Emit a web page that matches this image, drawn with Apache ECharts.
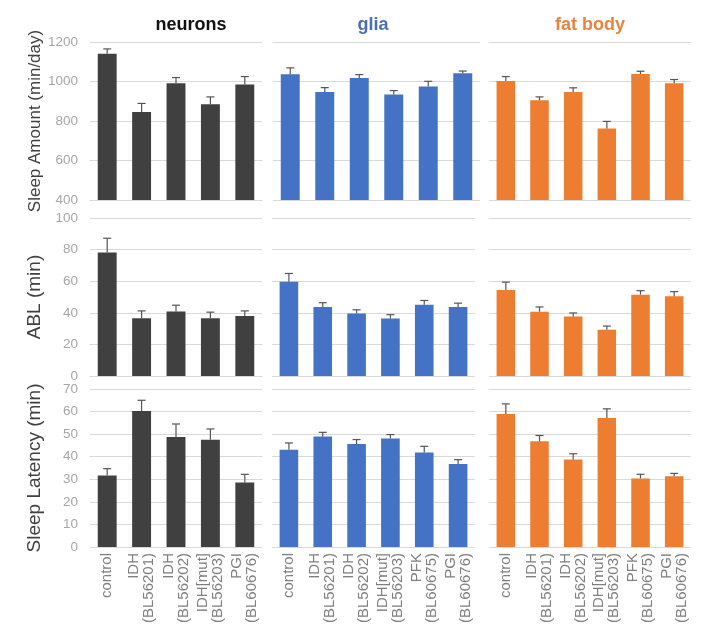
<!DOCTYPE html>
<html>
<head>
<meta charset="utf-8">
<script src="https://cdn.jsdelivr.net/npm/echarts@6/dist/echarts.min.js"></script>
<style>html,body{margin:0;padding:0;background:#fff}#c{width:710px;height:640px}</style>
</head>
<body>
<div id="c"></div>
<script>
// ---- data ----
const panelTitles = ['neurons', 'glia', 'fat body'];
const catsNeurons = ['control', 'IDH\n(BL56201)', 'IDH\n(BL56202)', 'IDH[mut]\n(BL56203)', 'PGI\n(BL60676)'];
const catsOther = ['control', 'IDH\n(BL56201)', 'IDH\n(BL56202)', 'IDH[mut]\n(BL56203)', 'PFK\n(BL60675)', 'PGI\n(BL60676)'];
const rowNames = ['Sleep Amount (min/day)', 'ABL (min)', 'Sleep Latency (min)'];

const sleepNeurons = [1140, 845, 991, 885, 985];
const sleepNeuronsErr = [25, 44, 29, 37, 40];
const sleepGlia = [1037, 947, 1018, 934, 975, 1042];
const sleepGliaErr = [32, 22, 17, 20, 26, 11];
const sleepFat = [1003, 905, 947, 762, 1038, 991];
const sleepFatErr = [22, 17, 21, 36, 14, 19];

const ablNeurons = [78.2, 36.6, 40.8, 36.6, 37.9];
const ablNeuronsErr = [9, 4.6, 4, 3.8, 3.3];
const ablGlia = [59.6, 43.6, 39.6, 36.4, 45.1, 43.6];
const ablGliaErr = [5.3, 2.8, 2.3, 2.4, 2.7, 2.5];
const ablFat = [54.4, 40.7, 37.7, 29.3, 51.5, 50.4];
const ablFatErr = [5, 3, 2.2, 2.3, 2.5, 3];

const latNeurons = [31.7, 60.3, 48.7, 47.5, 28.6];
const latNeuronsErr = [3, 4.7, 5.8, 4.8, 3.6];
const latGlia = [43.1, 49.0, 45.6, 48.1, 41.9, 36.8];
const latGliaErr = [3, 1.8, 2, 1.7, 2.7, 1.9];
const latFat = [58.9, 46.8, 38.8, 57.2, 30.4, 31.3];
const latFatErr = [4.5, 2.6, 2.5, 4, 1.8, 1.3];

const yRanges = [[400, 1200, 200], [0, 100, 20], [0, 70, 10]];

// ---- layout ----
const colors = ['#404040', '#4472C4', '#ED7D31'];
const titleColors = ['#111111', '#4a6fb8', '#e8843f'];
const rowTop = [42, 218, 389];
const rowH = 158;
const colLeft = [[90, 273, 489], [90, 272, 489], [90, 272, 489]];
const colW = [[172, 207, 202], [172, 203, 202], [172, 203, 202]];
const titleX = [191, 373, 590];

const values = [
  [[sleepNeurons, sleepNeuronsErr], [sleepGlia, sleepGliaErr], [sleepFat, sleepFatErr]],
  [[ablNeurons, ablNeuronsErr], [ablGlia, ablGliaErr], [ablFat, ablFatErr]],
  [[latNeurons, latNeuronsErr], [latGlia, latGliaErr], [latFat, latFatErr]]
];

const grids = [], xAxes = [], yAxes = [], series = [];
for (let r = 0; r < 3; r++) {
  for (let c = 0; c < 3; c++) {
    const idx = r * 3 + c;
    grids.push({ left: colLeft[r][c], top: rowTop[r], width: colW[r][c], height: rowH });
    const cats = c === 0 ? catsNeurons : catsOther;
    xAxes.push({
      type: 'category', gridIndex: idx, data: cats,
      axisLine: { show: false }, axisTick: { show: false },
      axisLabel: r === 2 ? {
        show: true, rotate: 90, interval: 0, margin: 6,
        color: '#7f7f7f', fontSize: 15, lineHeight: 15, fontFamily: 'Liberation Sans, Arial, sans-serif'
      } : { show: false }
    });
    yAxes.push({
      type: 'value', gridIndex: idx,
      min: yRanges[r][0], max: yRanges[r][1], interval: yRanges[r][2],
      axisLine: { show: false }, axisTick: { show: false },
      splitLine: { show: true, lineStyle: { color: '#d9d9d9', width: 1 } },
      axisLabel: c === 0 ? {
        show: true, color: '#a6a6a6', fontSize: 13.5, margin: 12,
        fontFamily: 'Liberation Sans, Arial, sans-serif',
        formatter: function (v) { return String(v); }
      } : { show: false },
      name: c === 0 ? rowNames[r] : '',
      nameLocation: 'middle', nameGap: 46,
      nameTextStyle: { color: '#404040', fontSize: r === 0 ? 17 : 19, fontFamily: 'Liberation Sans, Arial, sans-serif' }
    });
    const vals = values[r][c][0], errs = values[r][c][1];
    series.push({
      type: 'bar', xAxisIndex: idx, yAxisIndex: idx, data: vals,
      barWidth: '55%', itemStyle: { color: colors[c] }, silent: true, z: 2
    });
    series.push({
      type: 'custom', xAxisIndex: idx, yAxisIndex: idx, z: 5, silent: true,
      data: vals.map((v, i) => [i, v, errs[i]]),
      encode: { x: 0, y: 1 },
      renderItem: function (params, api) {
        const x = api.value(0), y = api.value(1), e = api.value(2);
        const p0 = api.coord([x, y]);
        const p1 = api.coord([x, y + e]);
        const w = 8;
        const st = { stroke: '#555555', lineWidth: 1.2 };
        return {
          type: 'group', children: [
            { type: 'line', shape: { x1: p0[0], y1: p0[1], x2: p1[0], y2: p1[1] }, style: st },
            { type: 'line', shape: { x1: p1[0] - w / 2, y1: p1[1], x2: p1[0] + w / 2, y2: p1[1] }, style: st }
          ]
        };
      }
    });
  }
}

const graphics = panelTitles.map((t, i) => ({
  type: 'text', x: titleX[i], y: 25,
  style: { text: t, fill: titleColors[i], font: 'bold 18px "Liberation Sans", Arial, sans-serif', align: 'center', verticalAlign: 'middle' }
}));

const chart = echarts.init(document.getElementById('c'), null, { renderer: 'canvas' });
chart.setOption({
  animation: false,
  backgroundColor: '#ffffff',
  grid: grids, xAxis: xAxes, yAxis: yAxes, series: series,
  graphic: graphics
});
</script>
</body>
</html>
